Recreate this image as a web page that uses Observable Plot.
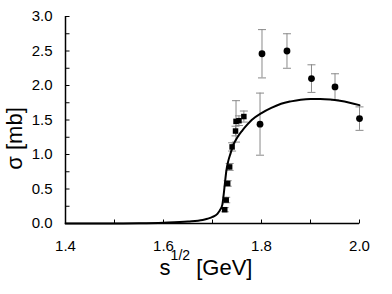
<!DOCTYPE html>
<html><head><meta charset="utf-8">
<script src="https://cdn.jsdelivr.net/npm/d3@7"></script>
<script src="https://cdn.jsdelivr.net/npm/@observablehq/plot@0.6"></script>
<style>body{margin:0;background:#fff} svg{display:block}</style>
</head><body><div id="chart"></div>
<script>
// Theory curve
const curveX = [1.40,1.50,1.55,1.60,1.65,1.68,1.69,1.70,1.71,1.715,1.72,1.7225,1.725,1.728,1.732,1.737,1.743,1.75,1.76,1.77,1.78,1.80,1.82,1.84,1.86,1.88,1.90,1.92,1.94,1.96,1.98,2.00];
const curveY = [0.000,0.001,0.004,0.012,0.028,0.050,0.070,0.095,0.140,0.190,0.270,0.400,0.560,0.750,0.900,1.020,1.150,1.240,1.340,1.425,1.500,1.600,1.675,1.735,1.770,1.795,1.805,1.805,1.797,1.778,1.750,1.715];
// Square data points
const sqX = [1.725,1.728,1.731,1.735,1.740,1.747,1.748,1.754,1.764];
const sqY = [0.20,0.34,0.58,0.82,1.11,1.34,1.48,1.49,1.55];
const sqErr = [0.03,0.04,0.04,0.05,0.06,0.07,0.30,0.07,0.08];
// Circle data points
const ciX = [1.797,1.801,1.852,1.902,1.950,2.000];
const ciY = [1.44,2.46,2.50,2.10,1.98,1.52];
const ciErr = [0.45,0.35,0.25,0.20,0.19,0.17];
// Ticks
const xTicks = [1.4,1.5,1.6,1.7,1.8,1.9,2.0];
const xTickLabels = [1.4,1.6,1.8,2.0];
const yTicks = [0,0.25,0.5,0.75,1,1.25,1.5,1.75,2,2.25,2.5,2.75,3];
const yTickLabels = [0,0.5,1.0,1.5,2.0,2.5,3.0];
const xLabel = "s1/2 [GeV]";
const yLabel = "σ [mb]";

const curve = curveX.map((x,i)=>({x, y: curveY[i]}));
const squares = sqX.map((x,i)=>({x, y: sqY[i], e: sqErr[i]}));
const circles = ciX.map((x,i)=>({x, y: ciY[i], e: ciErr[i]}));
const errs = squares.concat(circles);

const capSym = {draw(ctx, size){const r=Math.sqrt(size/Math.PI); ctx.moveTo(-r,0); ctx.lineTo(r,0);}};
const tickUp = {draw(ctx, size){const r=Math.sqrt(size/Math.PI); ctx.moveTo(0,0); ctx.lineTo(0,-r);}};
const tickRight = {draw(ctx, size){const r=Math.sqrt(size/Math.PI); ctx.moveTo(0,0); ctx.lineTo(r,0);}};

const font = "Liberation Sans, Arial, Helvetica, sans-serif";
const plot = Plot.plot({
  width: 392, height: 294,
  marginLeft: 65, marginRight: 33, marginTop: 16, marginBottom: 71,
  style: {fontFamily: font, fontSize: "15px", background: "white", color: "black"},
  x: {domain: [1.4, 2.0]},
  y: {domain: [0, 3]},
  marks: [
    Plot.axisX({ticks: xTickLabels, tickSize: 0, tickPadding: 17, tickFormat: d3.format(".1f"), fontSize: 15, label: null}),
    Plot.axisY({ticks: yTickLabels, tickSize: 0, tickPadding: 13, tickFormat: d3.format(".1f"), fontSize: 15, label: null}),
    Plot.dot(xTicks, {x: d=>d, y: 0, symbol: tickUp, r: 4, stroke: "black", fill: "none", strokeWidth: 1}),
    Plot.dot(yTicks, {x: 1.4, y: d=>d, symbol: tickRight, r: 4, stroke: "black", fill: "none", strokeWidth: 1}),
    Plot.ruleY([0], {x1: 1.4, x2: 2.0, stroke: "black", strokeWidth: 1.5}),
    Plot.ruleX([1.4], {y1: 0, y2: 3, stroke: "black", strokeWidth: 1.5}),
    Plot.ruleX(errs, {x: "x", y1: d=>d.y-d.e, y2: d=>d.y+d.e, stroke: "#8a8a8a", strokeWidth: 1}),
    Plot.dot(errs, {x: "x", y: d=>d.y-d.e, symbol: capSym, r: 4, stroke: "#8a8a8a", fill: "none", strokeWidth: 1}),
    Plot.dot(errs, {x: "x", y: d=>d.y+d.e, symbol: capSym, r: 4, stroke: "#8a8a8a", fill: "none", strokeWidth: 1}),
    Plot.line(curve, {x: "x", y: "y", curve: "monotone-x", stroke: "black", strokeWidth: 2}),
    Plot.dot(squares, {x: "x", y: "y", symbol: "square", r: 3.1, fill: "black", stroke: "none"}),
    Plot.dot(circles, {x: "x", y: "y", symbol: "circle", r: 3.4, fill: "black", stroke: "none"}),
    Plot.text([yLabel], {frameAnchor: "left", rotate: -90, dx: -50.5, dy: 49.7, fontSize: 22, fill: "black"}),
    Plot.text([xLabel], {frameAnchor: "bottom", dx: -6.5, dy: 51.5, fontSize: 22, fill: "black"})
  ]
});
document.getElementById("chart").appendChild(plot);
plot.querySelectorAll("text").forEach(t => {
  if (t.textContent === xLabel) {
    t.innerHTML = 's<tspan dy="-15" font-size="14">1/2</tspan><tspan dy="15"> [GeV]</tspan>';
  }
});
</script>
</body></html>
